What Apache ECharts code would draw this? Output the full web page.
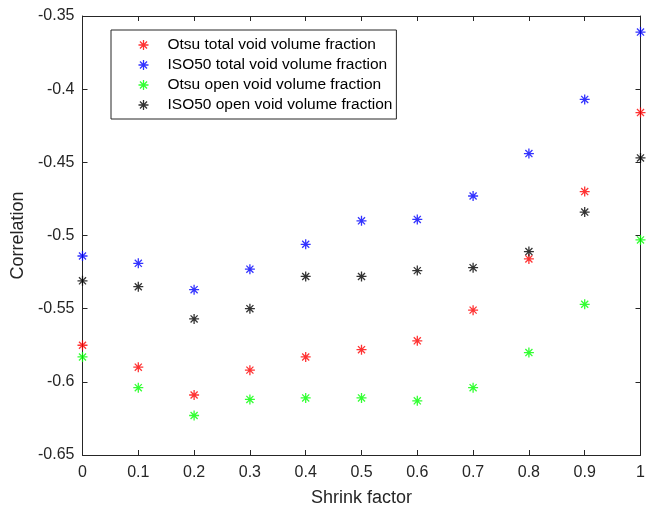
<!DOCTYPE html>
<html>
<head>
<meta charset="utf-8">
<script src="https://cdn.jsdelivr.net/npm/echarts@6/dist/echarts.min.js"></script>
<style>
html,body{margin:0;padding:0;background:#fff;}
#chart{width:651px;height:512px;}
</style>
</head>
<body>
<div id="chart"></div>
<script>
var shrink = [0, 0.1, 0.2, 0.3, 0.4, 0.5, 0.6, 0.7, 0.8, 0.9, 1.0];
var otsuTotal  = [-0.575, -0.590, -0.609, -0.592, -0.583, -0.578, -0.572, -0.551, -0.516, -0.470, -0.416];
var iso50Total = [-0.514, -0.519, -0.537, -0.523, -0.506, -0.490, -0.489, -0.473, -0.444, -0.407, -0.361];
var otsuOpen   = [-0.583, -0.604, -0.623, -0.612, -0.611, -0.611, -0.613, -0.604, -0.580, -0.547, -0.503];
var iso50Open  = [-0.531, -0.535, -0.557, -0.550, -0.528, -0.528, -0.524, -0.522, -0.511, -0.484, -0.447];
var seriesNames = ['Otsu total void volume fraction', 'ISO50 total void volume fraction', 'Otsu open void volume fraction', 'ISO50 open void volume fraction'];
var seriesColors = ['#ff0000', '#0000ff', '#00ff00', '#000000'];
var seriesValues = [otsuTotal, iso50Total, otsuOpen, iso50Open];

var star = 'path://M0,-10L0,10M-10,0L10,0M-7.07,-7.07L7.07,7.07M-7.07,7.07L7.07,-7.07';
var FONT = '"Liberation Sans", Arial, sans-serif';
var axisCol = '#262626';

var chart = echarts.init(document.getElementById('chart'), null, {renderer: 'canvas'});
var series = seriesValues.map(function (vals, i) {
  return {
    name: seriesNames[i],
    type: 'scatter',
    symbol: star,
    symbolSize: 10,
    itemStyle: {color: 'none', borderColor: seriesColors[i], borderWidth: 1.3},
    data: vals.map(function (v, j) { return [shrink[j], v]; })
  };
});

var axisCommon = {
  axisLine: {show: true, onZero: false, lineStyle: {color: axisCol, width: 1}},
  axisTick: {show: true, inside: true, length: 5, lineStyle: {color: axisCol}},
  splitLine: {show: false},
  axisLabel: {color: axisCol, fontFamily: FONT, fontSize: 16}
};

chart.setOption({
  backgroundColor: '#fff',
  animation: false,
  grid: {left: 82.5, right: 10.5, top: 16, bottom: 57, containLabel: false},
  legend: {
    orient: 'vertical',
    left: 111, top: 30,
    padding: [7, 4, 6, 25],
    itemGap: 4,
    itemWidth: 10, itemHeight: 14,
    borderColor: axisCol, borderWidth: 1,
    backgroundColor: '#fff',
    textStyle: {fontFamily: FONT, fontSize: 15.5, lineHeight: 14, color: '#000', padding: [0, 0, 0, 14]},
    data: seriesNames.map(function (n, i) {
      return {name: n, icon: star, itemStyle: {color: 'none', borderColor: seriesColors[i], borderWidth: 1.3}};
    })
  },
  xAxis: [
    Object.assign({}, axisCommon, {
      type: 'value', min: 0, max: 1, interval: 0.1, position: 'bottom',
      name: 'Shrink factor', nameLocation: 'middle', nameGap: 34,
      nameTextStyle: {fontFamily: FONT, fontSize: 18, color: axisCol},
      axisLabel: Object.assign({}, axisCommon.axisLabel, {margin: 10, formatter: function (v) { return String(+v.toFixed(1)); }})
    }),
    Object.assign({}, axisCommon, {
      type: 'value', min: 0, max: 1, interval: 0.1, position: 'top',
      axisLabel: {show: false}
    })
  ],
  yAxis: [
    Object.assign({}, axisCommon, {
      type: 'value', min: -0.65, max: -0.35, interval: 0.05, position: 'left',
      name: 'Correlation', nameLocation: 'middle', nameGap: 54, nameRotate: 90,
      nameTextStyle: {fontFamily: FONT, fontSize: 18, color: axisCol},
      axisLabel: Object.assign({}, axisCommon.axisLabel, {margin: 8, formatter: function (v) { return String(+v.toFixed(2)); }})
    }),
    Object.assign({}, axisCommon, {
      type: 'value', min: -0.65, max: -0.35, interval: 0.05, position: 'right',
      axisLabel: {show: false}
    })
  ],
  series: series
});
</script>
</body>
</html>
